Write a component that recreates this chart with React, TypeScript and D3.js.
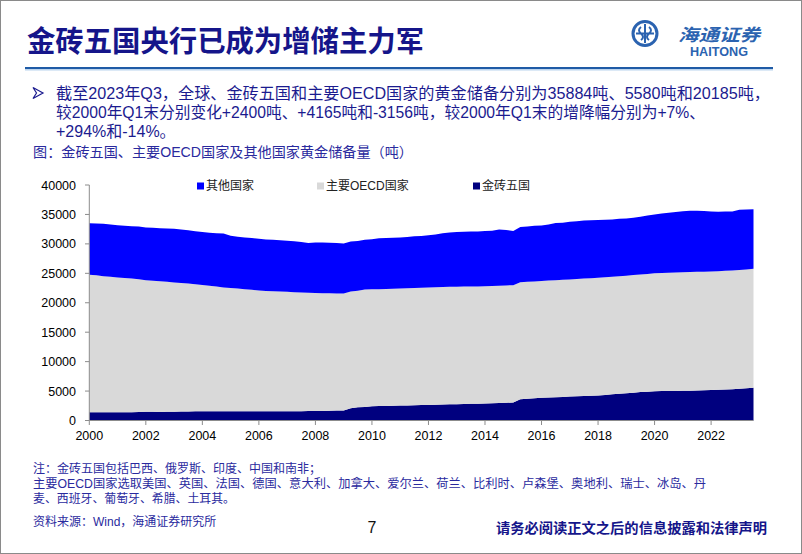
import React from "react";
import * as d3 from "d3";

// ---------- data (quarterly, 2000Q1 – 2023Q3, tonnes) ----------
const startYear = 2000;
const seriesKeys = ["brics", "oecd", "others"];
const seriesLabels = ["金砖五国", "主要OECD国家", "其他国家"];
const seriesColors = ["#00007F", "#D9D9D9", "#0000FF"];

const bricsValues = [
  1415, 1410, 1400, 1400, 1390, 1390, 1400, 1450, 1500, 1480, 1460, 1470,
  1500, 1530, 1540, 1550, 1560, 1560, 1560, 1560, 1560, 1560, 1570, 1570,
  1570, 1570, 1570, 1580, 1580, 1580, 1590, 1600, 1600, 1620, 1640, 1680,
  1700, 2100, 2260, 2300, 2430, 2450, 2480, 2500, 2530, 2560, 2590, 2620,
  2650, 2680, 2710, 2740, 2770, 2800, 2830, 2860, 2890, 2930, 2970, 3010,
  3060, 3620, 3700, 3780, 3850, 3910, 3960, 4010, 4060, 4110, 4160, 4200,
  4260, 4340, 4440, 4560, 4640, 4730, 4820, 4900, 4980, 5000, 5010, 5020,
  5040, 5070, 5100, 5130, 5160, 5210, 5260, 5320, 5390, 5470, 5580,
];
const oecdValues = [
  23341, 23250, 23100, 23000, 22890, 22810, 22700, 22550, 22330, 22270, 22190, 22080,
  21930, 21820, 21710, 21600, 21470, 21340, 21190, 21040, 20940, 20840, 20730, 20630,
  20530, 20430, 20380, 20320, 20270, 20220, 20160, 20100, 20070, 20000, 19960, 19900,
  19860, 19800, 19790, 19940, 19870, 19850, 19870, 19880, 19880, 19890, 19910, 19940,
  19950, 19960, 19970, 19960, 19950, 19940, 19930, 19920, 19910, 19920, 19930, 19940,
  19920, 19870, 19850, 19840, 19850, 19860, 19870, 19890, 19890, 19910, 19940, 19970,
  19990, 19990, 19980, 19940, 19960, 19970, 19980, 20000, 20020, 20070, 20090, 20130,
  20150, 20150, 20150, 20150, 20160, 20150, 20160, 20160, 20170, 20180, 20185,
];
const othersValues = [
  8728, 8810, 8900, 8900, 8870, 8880, 8900, 8960, 8970, 8980, 9000, 9050,
  9120, 9100, 9050, 9000, 8970, 9000, 9050, 9170, 8900, 8800, 8800, 8780,
  8750, 8750, 8730, 8700, 8700, 8650, 8550, 8450, 8570, 8600, 8580, 8570,
  8510, 8500, 8450, 8460, 8500, 8650, 8650, 8670, 8690, 8700, 8800, 8770,
  8850, 8960, 9120, 9250, 9280, 9310, 9340, 9340, 9370, 9400, 9550, 9400,
  9220, 9360, 9400, 9460, 9400, 9530, 9700, 9700, 9800, 9830, 9850, 9830,
  9800, 9770, 9730, 9750, 9700, 9750, 9800, 9900, 10000, 10080, 10200, 10250,
  10360, 10420, 10370, 10290, 10180, 10100, 10060, 10040, 10220, 10180, 10119,
];

const yTicks = [0, 5000, 10000, 15000, 20000, 25000, 30000, 35000, 40000];
const xTicks = [2000, 2002, 2004, 2006, 2008, 2010, 2012, 2014, 2016, 2018, 2020, 2022];

const titleText = "金砖五国央行已成为增储主力军";
const bulletLines = [
  "截至2023年Q3，全球、金砖五国和主要OECD国家的黄金储备分别为35884吨、5580吨和20185吨，",
  "较2000年Q1末分别变化+2400吨、+4165吨和-3156吨，较2000年Q1末的增降幅分别为+7%、",
  "+294%和-14%。",
];
const captionText = "图：金砖五国、主要OECD国家及其他国家黄金储备量（吨）";
const noteLines = [
  "注：金砖五国包括巴西、俄罗斯、印度、中国和南非；",
  "主要OECD国家选取美国、英国、法国、德国、意大利、加拿大、爱尔兰、荷兰、比利时、卢森堡、奥地利、瑞士、冰岛、丹",
  "麦、西班牙、葡萄牙、希腊、土耳其。",
];
const noteWidths = [288, 673, 202];
const sourceText = "资料来源：Wind，海通证券研究所";
const pageNumber = "7";
const disclaimerText = "请务必阅读正文之后的信息披露和法律声明";

// ---------- layout ----------
const W = 802;
const H = 554;
const NAVY = "#1B1B8F";
const FONT = "'Liberation Sans', Arial, 'Noto Sans CJK SC', sans-serif";
const CJK = "'Noto Sans CJK SC', 'Liberation Sans', sans-serif";

export default function App() {
  const rows = bricsValues.map((b, i) => ({
    t: startYear + i * 0.25,
    brics: b,
    oecd: oecdValues[i],
    others: othersValues[i],
  }));
  const stacked = d3.stack<any>().keys(seriesKeys)(rows);

  const x = d3.scaleLinear().domain([2000, 2023.5]).range([89.3, 753.5]);
  const y = d3.scaleLinear().domain([0, 40000]).range([420.5, 185]);

  const area = d3
    .area<any>()
    .x((d) => x(d.data.t))
    .y0((d) => y(d[0]))
    .y1((d) => y(d[1]));

  const legendItems = [
    { idx: 2, x: 197 },
    { idx: 1, x: 317 },
    { idx: 0, x: 473 },
  ];

  return (
    <svg
      width={W}
      height={H}
      style={{ position: "fixed", left: 0, top: 0, background: "#fff" }}
    >
      <rect x={0} y={0} width={W} height={H} fill="#fff" />
      <rect x={0.5} y={0.5} width={W - 1} height={H - 1} fill="none" stroke="#8a8a8a" />

      {/* title */}
      <text
        x={27}
        y={52}
        fontFamily={CJK}
        fontWeight={700}
        fontSize={29}
        fill="#15158A"
        textLength={397}
        lengthAdjust="spacingAndGlyphs"
      >
        {titleText}
      </text>
      <rect x={25} y={67} width={748} height={2.2} fill="#1F5BA6" />
      <rect x={25} y={69.2} width={748} height={1.3} fill="#B9D3EE" />

      {/* logo */}
      <g>
        <circle cx={645} cy={33.5} r={12} fill="none" stroke="#2B63B0" strokeWidth={3} />
        <path
          d="M645,24 L645,43 M636,33.5 L654,33.5 M641,27 Q637,30 641,33.5 Q645,37 641,40 M649,27 Q653,30 649,33.5 Q645,37 649,40"
          fill="none"
          stroke="#2B63B0"
          strokeWidth={2}
        />
        <text
          x={678}
          y={41}
          fontFamily={CJK}
          fontWeight={700}
          fontStyle="italic"
          fontSize={17}
          fill="#2B63B0"
          textLength={82}
          lengthAdjust="spacingAndGlyphs"
        >
          海通证券
        </text>
        <text
          x={690}
          y={55.5}
          fontFamily={FONT}
          fontWeight={700}
          fontSize={12}
          fill="#2B63B0"
          textLength={58}
          lengthAdjust="spacingAndGlyphs"
        >
          HAITONG
        </text>
      </g>

      {/* bullet */}
      <path d="M33,87.5 L43,93 L33,98.5 L36.5,93 Z" fill="none" stroke={NAVY} strokeWidth={1.2} />
      <text x={56} y={98.8} fontFamily={FONT} fontSize={16} fill={NAVY} textLength={714} lengthAdjust="spacingAndGlyphs">
        {bulletLines[0]}
      </text>
      <text x={56} y={118.3} fontFamily={FONT} fontSize={16} fill={NAVY} textLength={649} lengthAdjust="spacingAndGlyphs">
        {bulletLines[1]}
      </text>
      <text x={56} y={137.3} fontFamily={FONT} fontSize={16} fill={NAVY}>
        {bulletLines[2]}
      </text>

      {/* caption */}
      <text x={33} y={156.8} fontFamily={FONT} fontSize={14} fill="#2A2A9E" textLength={380} lengthAdjust="spacingAndGlyphs">
        {captionText}
      </text>

      {/* areas */}
      {stacked.map((s, i) => (
        <path key={s.key} d={area(s) || ""} fill={seriesColors[i]} />
      ))}

      {/* y axis */}
      <line x1={89.3} x2={89.3} y1={185} y2={420.5} stroke="#8c8c8c" strokeWidth={1} />
      {yTicks.map((v) => (
        <g key={"y" + v}>
          <line x1={85} x2={89.3} y1={y(v)} y2={y(v)} stroke="#8c8c8c" />
          <text x={76} y={y(v) + 4.5} textAnchor="end" fontFamily={FONT} fontSize={12.5} fill="#000">
            {v}
          </text>
        </g>
      ))}

      {/* x axis */}
      <line x1={89.3} x2={753.5} y1={420.5} y2={420.5} stroke="#8c8c8c" strokeWidth={1} />
      {xTicks.map((v) => (
        <g key={"x" + v}>
          <line x1={x(v)} x2={x(v)} y1={420.5} y2={425} stroke="#8c8c8c" />
          <text x={x(v)} y={440} textAnchor="middle" fontFamily={FONT} fontSize={12.5} fill="#000">
            {v}
          </text>
        </g>
      ))}

      {/* legend */}
      {legendItems.map((it) => (
        <g key={"lg" + it.idx}>
          <rect x={it.x} y={182.5} width={7} height={7} fill={seriesColors[it.idx]} />
          <text x={it.x + 9} y={190.3} fontFamily={FONT} fontSize={12} fill="#222">
            {seriesLabels[it.idx]}
          </text>
        </g>
      ))}

      {/* notes */}
      {noteLines.map((t, i) => (
        <text
          key={"n" + i}
          x={33}
          y={472.5 + i * 15}
          fontFamily={FONT}
          fontSize={12}
          fill="#2A2A9E"
          textLength={noteWidths[i]}
          lengthAdjust="spacingAndGlyphs"
        >
          {t}
        </text>
      ))}
      <text x={33} y={526} fontFamily={FONT} fontSize={12} fill="#2A2A9E">
        {sourceText}
      </text>
      <text x={372} y={533} textAnchor="middle" fontFamily={FONT} fontSize={16} fill="#111">
        {pageNumber}
      </text>
      <text
        x={496}
        y={533}
        fontFamily={CJK}
        fontWeight={700}
        fontSize={14}
        fill="#15158A"
        textLength={271}
        lengthAdjust="spacingAndGlyphs"
      >
        {disclaimerText}
      </text>
    </svg>
  );
}
